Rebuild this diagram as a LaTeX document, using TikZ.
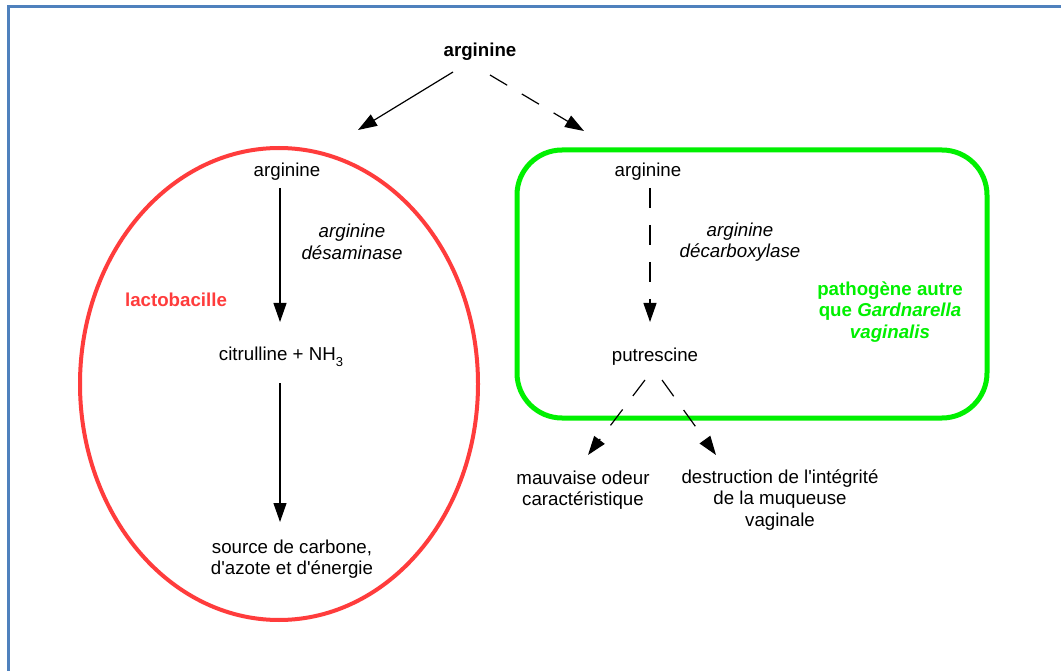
\documentclass[tikz,border=0pt]{standalone}
\usepackage{fontspec}
\setmainfont{Liberation Sans}[Ligatures=TeXOff]
\usetikzlibrary{arrows.meta}
\definecolor{framecol}{RGB}{79,129,189}
\definecolor{redc}{RGB}{255,60,60}
\definecolor{greenc}{RGB}{0,240,0}
\newcommand\fsz{\fontsize{18.7}{21.5}\selectfont}
\tikzset{
  lbl/.style={font=\fsz, align=center, inner sep=0pt},
  conn/.style={line width=1.2pt, -{Triangle[length=19pt,width=13pt]}},
  dconn/.style={conn, dash pattern=on 20pt off 17pt},
}
\begin{document}
\begin{tikzpicture}[x=1pt,y=-1pt]
\useasboundingbox (0,0) rectangle (1061,671);
\fill[white] (0,0) rectangle (1061,671);
\draw[framecol, line width=2.2pt] (8.5,671) -- (8.5,6.5) -- (1061,6.5);

% shapes
\draw[redc, line width=4pt] (279,384) ellipse [x radius=199, y radius=236];
\draw[greenc, line width=5pt, rounded corners=45pt] (517,150) rectangle (987,418);

% nodes
\node[lbl, font=\fsz\bfseries] (top) at (480,52) {arginine};
\node[lbl] (la) at (287,172) {arginine};
\node[lbl, font=\fsz\itshape] (lenz) at (352,242) {arginine\\désaminase};
\node[lbl, text=redc, font=\fsz\bfseries] (lacto) at (176,300) {lactobacille};
\node[lbl] (cit) at (281,357) {citrulline + NH\raisebox{-6pt}{\fontsize{13}{13}\selectfont 3}};
\node[lbl] (src) at (292,559) {source de carbone,\\d'azote et d'énergie};

\node[lbl] (ra) at (648,172) {arginine};
\node[lbl, font=\fsz\itshape] (renz) at (740,242) {arginine\\décarboxylase};
\node[lbl, text=greenc, font=\fsz\bfseries] (path) at (890,312) {pathogène autre\\que \textit{Gardnarella}\\\textit{vaginalis}};
\node[lbl] (put) at (655,357) {putrescine};
\node[lbl] (odeur) at (583,490) {mauvaise odeur\\caractéristique};
\node[lbl] (destr) at (780,500) {destruction de l'intégrité\\de la muqueuse\\vaginale};

% connectors
\coordinate (ltip) at (358,130);
\coordinate (rtip) at (584,131);
\draw[conn] (453,72) -- (ltip);
\draw[dconn] (490,75) -- (rtip);
\draw[conn] (280,188) -- (280,322);
\draw[conn] (280,383) -- (280,522);
\draw[dconn] (650,188) -- (650,322);
\draw[dconn] (645,380) -- (588,455);
\draw[dconn] (662,380) -- (716,455);
\end{tikzpicture}
\end{document}
